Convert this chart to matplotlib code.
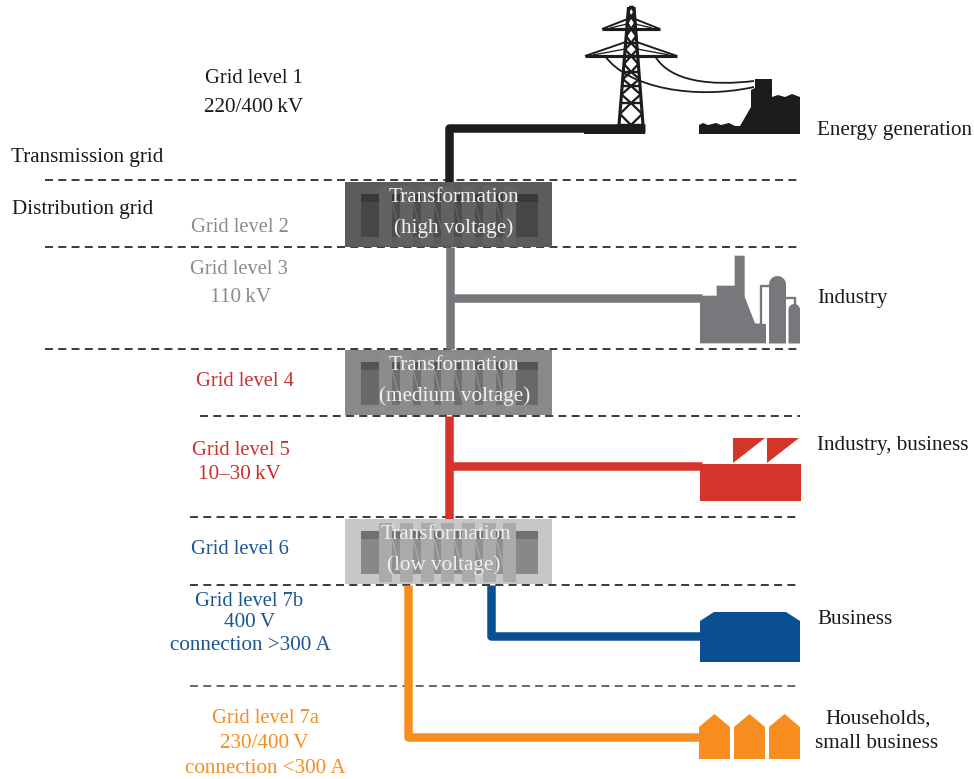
import matplotlib
matplotlib.use("Agg")
import matplotlib.pyplot as plt
import numpy as np
from matplotlib.patches import Polygon, Rectangle, PathPatch
from matplotlib.path import Path

plt.rcParams['font.family'] = ['Liberation Serif', 'DejaVu Serif']

BLACK = '#1d1c1c'; GRAY = '#77787b'; RED = '#d4342a'; BLUE = '#0a4f92'; ORANGE = '#f78d1e'

# --- text content ---
left_labels = [
    ("Grid level 1", 254, 77, '#1a1a1a'), ("220/400\u2009kV", 254, 106, '#1a1a1a'),
    ("Grid level 2", 240, 226, '#8a8b8d'),
    ("Grid level 3", 239, 268, '#8a8b8d'), ("110\u2009kV", 241, 296, '#8a8b8d'),
    ("Grid level 4", 245, 380, '#c8322b'),
    ("Grid level 5", 241, 449, '#c8322b'), ("10\u201330\u2009kV", 239, 473, '#c8322b'),
    ("Grid level 6", 240, 548, '#1b5590'),
    ("Grid level 7b", 249, 600, '#1b5590'), ("400\u2009V", 250, 621, '#1b5590'),
    ("connection >300\u2009A", 250, 644, '#1b5590'),
    ("Grid level 7a", 265, 717, ORANGE), ("230/400\u2009V", 264, 742, ORANGE),
    ("connection <300\u2009A", 265, 767, ORANGE),
]
grid_names = [("Transmission grid", 11, 156), ("Distribution grid", 12, 208)]
right_labels = [("Energy generation", 817, 129), ("Industry", 817, 297),
                ("Industry, business", 817, 444), ("Business", 817, 618)]
household_labels = [("Households,", 878, 718), ("small business", 877, 742)]
transformers = [
    ("Transformation", "(high voltage)", 182, 454, 454,
     dict(box='#5c5c5e', end='#474749', strip='#39393a', coil='#626264', mid='#4c4c4e', txt='#f2f2f2')),
    ("Transformation", "(medium voltage)", 350, 454, 455,
     dict(box='#88898b', end='#69696b', strip='#555557', coil='#8b8c8e', mid='#707072', txt='#f2f2f2')),
    ("Transformation", "(low voltage)", 519, 446, 444,
     dict(box='#c6c7c8', end='#87888a', strip='#6f7071', coil='#a9aaac', mid='#8f9092', txt='#f0f0f0')),
]
dashes = [(45, 800, 180, 'k'), (45, 800, 247, 'k'), (45, 800, 349, 'k'), (200, 800, 416, 'k'),
          (190, 800, 517, 'k'), (190, 800, 585, 'k'), (190, 800, 686, '#3a3a3a')]
# (colour, x-points, y-points)
feeders = [
    (BLACK, [449, 449, 645], [182, 128, 128]),
    (GRAY, [450, 450], [247, 349]),
    (GRAY, [450, 702], [298, 298]),
    (RED, [449, 449], [416, 519]),
    (RED, [449, 702], [466, 466]),
    (BLUE, [491, 491, 702], [585, 636, 636]),
    (ORANGE, [408, 408, 702], [585, 737, 737]),
]

fig = plt.figure(figsize=(9.74, 7.79), dpi=100)
ax = fig.add_axes([0, 0, 1, 1])
ax.set_xlim(0, 974); ax.set_ylim(779, 0); ax.axis('off')
PX = 72 / 100  # points per pixel
FS = 15.2
FS_GRID = 14.8

for x0, x1, y, c in dashes:
    ax.plot([x0, x1], [y, y], color=c, lw=1.08, dashes=(5.3, 3.55), zorder=1)

for c, xs, ys in feeders:
    ax.plot(xs, ys, color=c, lw=8.5 * PX, solid_joinstyle='round', solid_capstyle='butt', zorder=2)

# transformers
def transformer(top, col):
    ax.add_patch(Rectangle((345, top), 207, 65, fc=col['box'], ec='none', zorder=3))
    ax.add_patch(Rectangle((378, top + 12), 138, 43, fc=col['mid'], ec='none', zorder=3.1))
    for x0, w in [(361, 18), (516, 22)]:
        ax.add_patch(Rectangle((x0, top + 12), w, 43, fc=col['end'], ec='none', zorder=3.2))
        ax.add_patch(Rectangle((x0, top + 12), w, 8, fc=col['strip'], ec='none', zorder=3.3))
    ax.add_patch(Rectangle((378, top + 12), 138, 8, fc=col['strip'], ec='none', zorder=3.15))
    coils = [379, 400, 421, 441, 462, 483, 503]
    for x0 in coils:
        ax.add_patch(Rectangle((x0, top + 4), 13, 59, fc=col['coil'], ec='none', zorder=3.4))
    for x0 in coils[:-1]:
        ax.plot([x0 + 13, x0 + 21], [top + 20, top + 50], color=col['coil'], lw=1, zorder=3.3)

for l1, l2, top, x1, x2, col in transformers:
    transformer(top, col)
    ax.text(x1, top + 15.5, l1, color=col['txt'], fontsize=FS, ha='center', va='center', zorder=5)
    ax.text(x2, top + 46.5, l2, color=col['txt'], fontsize=FS, ha='center', va='center', zorder=5)

# pylon
def ln(xs, ys, lw=1.6):
    ax.plot(xs, ys, color=BLACK, lw=lw * PX * 1.2, zorder=4, solid_capstyle='butt')

ax.add_patch(Rectangle((584, 124.5), 61, 9.5, fc=BLACK, ec='none', zorder=4))
def legL(y): return 628.5 + (y - 7) * (619 - 628.5) / 118
def legR(y): return 634 + (y - 7) * (643 - 634) / 118
ln([628.5, 619], [7, 125], 2.6); ln([634, 643], [7, 125], 2.6)
levels = [7, 17, 29, 43, 56, 72, 86, 103, 125]
for y in levels:
    ln([legL(y), legR(y)], [y, y], 2)
for a, b in zip(levels[:-1], levels[1:]):
    m = (a + b) / 2
    cx = (legL(m) + legR(m)) / 2
    ln([legL(m), cx, legR(m), cx, legL(m)], [m, a, m, b, m], 1.9)
for y, xl, xr, rise in [(29, 602, 660, 10), (56, 585, 677, 14)]:
    ln([xl, xr], [y, y], 2.6)
    ln([xl, legL(y - rise)], [y, y - rise], 1.6)
    ln([xr, legR(y - rise)], [y, y - rise], 1.6)
    ln([xl + 8, legL(y - rise / 2)], [y - 1, y - rise / 2], 1.1)
    ln([xr - 8, legR(y - rise / 2)], [y - 1, y - rise / 2], 1.1)
for verts in [[(605, 56), (628, 88), (695, 100), (754, 87)], [(655, 56), (670, 82), (712, 86), (754, 81)]]:
    ax.add_patch(PathPatch(Path(verts, [Path.MOVETO, Path.CURVE4, Path.CURVE4, Path.CURVE4]),
                           fc='none', ec=BLACK, lw=1.3, zorder=4))

# power plant
ax.add_patch(Polygon([(699, 134), (699, 125), (703, 123), (708, 125), (716, 123), (721, 125), (729, 123),
                      (735, 126), (740, 126), (751, 107), (751, 90), (755, 88), (755, 79), (772, 79), (772, 97),
                      (778, 95), (785, 97), (792, 94), (800, 97), (800, 134)], fc=BLACK, ec='none', zorder=4))

# industry
def gxy(pts, ox=680, oy=245): return [(ox + a / 3, oy + b / 3) for a, b in pts]
def dome(x0, x1, top, bottom):
    r = (x1 - x0) / 2
    t = np.linspace(np.pi, 0, 24)
    pts = [(x0, bottom)] + [((x0 + x1) / 2 + r * np.cos(a), top + r - r * np.sin(a)) for a in t] + [(x1, bottom)]
    return Polygon(pts, fc=GRAY, ec='none', zorder=4)
ax.add_patch(Polygon(gxy([(60, 295), (60, 152), (110, 152), (110, 122), (164, 122), (164, 32), (194, 32), (194, 155),
                          (225, 235), (258, 237), (258, 295)]), fc=GRAY, ec='none', zorder=4))
ax.add_patch(dome(769, 786, 276, 343.5))
ax.add_patch(dome(788.5, 800, 304, 343.5))
p = gxy([(243, 237), (243, 122), (267, 122)]); ax.plot(*zip(*p), color=GRAY, lw=1.7, zorder=4)
p = gxy([(318, 158), (345, 158), (345, 182)]); ax.plot(*zip(*p), color=GRAY, lw=1.7, zorder=4)

# business factory
ax.add_patch(Rectangle((700, 464), 101, 37, fc=RED, ec='none', zorder=4))
for x0 in [733, 767]:
    ax.add_patch(Polygon([(x0, 438), (x0 + 32, 438), (x0, 463)], fc=RED, ec='none', zorder=4))

# office
ax.add_patch(Polygon([(700, 621), (714, 612), (786, 612), (800, 621), (800, 662), (700, 662)],
                     fc=BLUE, ec='none', zorder=4))

# houses
for x0 in [699, 734, 769]:
    ax.add_patch(Polygon([(x0, 727), (x0 + 15.5, 714), (x0 + 31, 727), (x0 + 31, 759), (x0, 759)],
                         fc=ORANGE, ec='none', zorder=4))

TEXT_DY = 1.5
for s, x, y, c in left_labels:
    ax.text(x, y + TEXT_DY, s, color=c, fontsize=FS_GRID if s.startswith("Grid") else FS, ha='center', va='center')
for s, x, y in grid_names + right_labels:
    ax.text(x, y + TEXT_DY, s, color='#1a1a1a', fontsize=FS, ha='left', va='center')
for s, x, y in household_labels:
    ax.text(x, y + TEXT_DY, s, color='#1a1a1a', fontsize=FS, ha='center', va='center')

fig.savefig('out.png', dpi=100)
